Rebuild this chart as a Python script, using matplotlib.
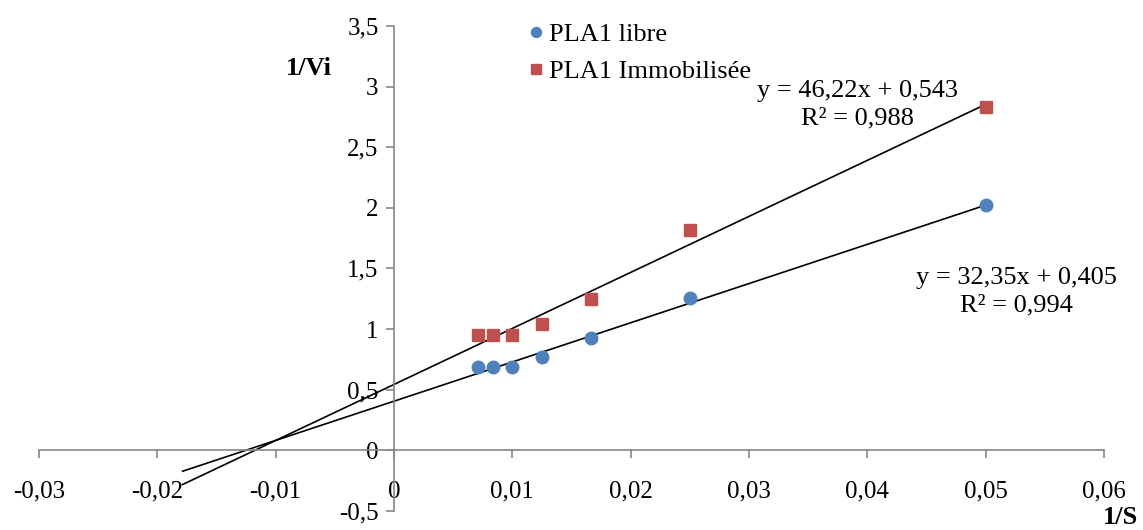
import matplotlib.pyplot as plt
import numpy as np
from matplotlib.ticker import FuncFormatter

# donnees Lineweaver-Burk
inv_s = [1/140, 1/120, 1/100, 1/80, 1/60, 1/40, 1/20]
vi_libre = [0.69, 0.69, 0.69, 0.77, 0.93, 1.26, 2.02]
vi_immob = [0.95, 0.95, 0.95, 1.04, 1.25, 1.82, 2.83]

# droites de tendance (Excel)
pente_libre, orig_libre = 32.35, 0.405
pente_immob, orig_immob = 46.22, 0.543
recul = 0.025  # prevision en arriere

xticks = [-0.03, -0.02, -0.01, 0, 0.01, 0.02, 0.03, 0.04, 0.05, 0.06]
yticks = [-0.5, 0, 0.5, 1, 1.5, 2, 2.5, 3, 3.5]

plt.rcParams['font.family'] = ['Liberation Serif', 'DejaVu Serif']
plt.rcParams['font.size'] = 19

fig = plt.figure(figsize=(11.43, 5.30), dpi=100)
ax = fig.add_axes([0.034, 0.036, 0.932, 0.915])

def virgule(v, pos):
    s = ('%g' % round(v, 4)).replace('.', ',')
    return s

xl = np.array([min(inv_s) - recul, max(inv_s)])
ax.plot(xl, pente_libre * xl + orig_libre, color='black', lw=1.2, zorder=2)
ax.plot(xl, pente_immob * xl + orig_immob, color='black', lw=1.2, zorder=2)

ax.plot(inv_s, vi_libre, 'o', color='#4F81BD', ms=9, label='PLA1 libre', zorder=3)
ax.plot(inv_s, vi_immob, 's', color='#C0504D', ms=9, label='PLA1 Immobilisée', zorder=3)

ax.set_xlim(-0.03, 0.06)
ax.set_ylim(-0.5, 3.5)
ax.set_xticks(xticks)
ax.set_yticks(yticks)
ax.xaxis.set_major_formatter(FuncFormatter(virgule))
ax.yaxis.set_major_formatter(FuncFormatter(virgule))

for s in ['top', 'right']:
    ax.spines[s].set_visible(False)
ax.spines['left'].set_position(('data', 0))
ax.spines['bottom'].set_position(('data', 0))
for s in ['left', 'bottom']:
    ax.spines[s].set_color('#868686')
    ax.spines[s].set_linewidth(1.2)
ax.tick_params(axis='x', direction='out', length=6, width=1.2, color='#868686',
               pad=16, labelsize=18)
ax.tick_params(axis='y', direction='out', length=6, width=1.2, color='#868686',
               pad=5, labelsize=18)

ax.text(-0.0072, 3.15, '1/Vi', fontweight='bold', ha='center', va='center')
ax.text(0.0614, -0.555, '1/S', fontweight='bold', ha='center', va='center')

ax.text(0.0392, 2.965, 'y = 46,22x + 0,543', ha='center', va='center')
ax.text(0.0392, 2.735, 'R² = 0,988', ha='center', va='center')
ax.text(0.0526, 1.425, 'y = 32,35x + 0,405', ha='center', va='center')
ax.text(0.0526, 1.194, 'R² = 0,994', ha='center', va='center')

leg = ax.legend(loc='upper left', bbox_to_anchor=(0.447, 1.028), frameon=False,
                handletextpad=0.1, handlelength=0.8, markerscale=0.8,
                labelspacing=0.5, borderaxespad=0)

fig.savefig('out.png', dpi=100)
